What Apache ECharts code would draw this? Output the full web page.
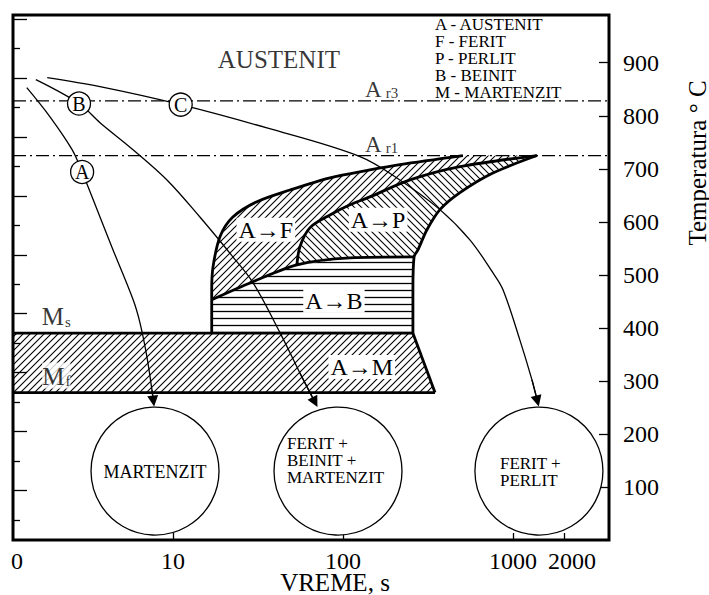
<!DOCTYPE html>
<html>
<head>
<meta charset="utf-8">
<title>CCT dijagram</title>
<script src="https://cdn.jsdelivr.net/npm/echarts@6/dist/echarts.min.js"></script>
<style>
  html, body { margin: 0; padding: 0; background: #fff; }
  #chart { width: 709px; height: 595px; }
</style>
</head>
<body>
<div id="chart"></div>
<script>
// ---- ose ----
var timeMin = 1.145, timeMax = 3674;          // s (log osa)
var tempMax = 990;                            // °C
var xTicks = [10, 100, 1000, 2000];
var xLabelValues = [1.21, 10, 100, 1000, 2000]; // prva oznaka se pise kao "0"
var fMin = 32, fMax = 32 + 1.8 * tempMax;     // lijeva osa bez brojeva, °F
var fMajor = [200, 400, 600, 800, 1000, 1200, 1400, 1600, 1800];
var fMinor = [100, 300, 500, 700, 900, 1100, 1300, 1500, 1700];

// ---- kriticne temperature ----
var ar3 = 828, ar1 = 725, ms = 390, mf = 278;

// ---- krive transformacije [t (s), T (°C)] ----
var ferStart = [[16.9, 390], [16.9, 453], [16.9, 472], [17.2, 515], [18.9, 572], [22.5, 609],
                [31.2, 638], [48.8, 660], [83.9, 683], [144, 698], [216, 708], [508, 725]];
var perStart = [[53.6, 519], [55.8, 553], [64, 589], [83.9, 613], [110, 632], [144, 647],
                [248, 679], [488, 704], [1384, 725]];
var perEnd   = [[1384, 725], [762, 692], [488, 655], [372, 623], [312, 585], [276, 547],
                [262, 534], [258, 472], [258, 390]];
var baiStart = [[16.9, 453], [29.5, 487], [53.6, 519], [110, 532], [262, 534]];
var msEnd = 258, mfEnd = 348;

// ---- krive hladjenja A, B, C ----
var coolA = [[1.38, 853], [1.89, 798], [2.55, 736], [2.92, 694], [3.72, 609], [4.44, 547],
             [5.83, 453], [6.4, 409], [7.03, 345], [7.52, 283], [7.67, 262]];
var coolB = [[1.56, 868], [2.80, 823], [3.72, 787], [5.82, 736], [9.22, 679], [14.4, 609],
             [22.5, 534], [29.6, 485], [42.6, 391], [55.8, 315], [68.4, 260]];
var coolC = [[1.82, 872], [3.72, 855], [11.1, 821], [35.7, 777], [126, 723], [216, 679],
             [372, 623], [558, 566], [762, 504], [874, 472], [1099, 377], [1294, 302], [1393, 262]];
var curveMarks = [['A', 2.92, 694], ['B', 2.80, 823], ['C', 11.1, 821]];

// ---- strukture ----
var structures = [
  ['MARTENZIT', 7.84, 130],
  ['FERIT +\nBEINIT +\nMARTENZIT', 93.5, 130],
  ['FERIT +\nPERLIT', 1422, 130]
];
var regionLabels = ['A→F', 'A→P', 'A→B', 'A→M'];
var regionLabelPos = [[35.2, 585], [161, 604], [88.5, 451], [129, 326]];
var legendLines = ['A - AUSTENIT', 'F - FERIT', 'P - PERLIT', 'B - BEINIT', 'M - MARTENZIT'];
var subLabels = [['A', 'r3', 135, ar3], ['A', 'r1', 135, ar1], ['M', 's', 1.69, ms], ['M', 'f', 1.7, mf]];

var serif = '"Liberation Serif", "DejaVu Serif", serif';

// srafure
function hatch(kind) {
  var s = 7, c = document.createElement('canvas');
  c.width = s; c.height = s;
  var g = c.getContext('2d');
  g.strokeStyle = '#000';
  g.lineWidth = 1.1;
  g.beginPath();
  if (kind === '/') {
    g.moveTo(0, s); g.lineTo(s, 0);
    g.moveTo(-1, 1); g.lineTo(1, -1);
    g.moveTo(s - 1, s + 1); g.lineTo(s + 1, s - 1);
  } else if (kind === '\\') {
    g.moveTo(0, 0); g.lineTo(s, s);
    g.moveTo(-1, s - 1); g.lineTo(1, s + 1);
    g.moveTo(s - 1, -1); g.lineTo(s + 1, 1);
  } else {
    g.lineWidth = 1.3;
    g.moveTo(0, 3.5); g.lineTo(s, 3.5);
  }
  g.stroke();
  return { image: c, repeat: 'repeat', imageWidth: s, imageHeight: s };
}

var regions = [
  { pts: ferStart.slice(1).concat(perStart.slice().reverse(), [baiStart[1], baiStart[0]]), fill: hatch('/') },
  { pts: perStart.concat(perEnd.slice(1, 7), [baiStart[3], baiStart[2]]), fill: hatch('\\') },
  { pts: baiStart.concat(perEnd.slice(7), [ferStart[0]]), fill: hatch('-') },
  { pts: [[timeMin, ms], [msEnd, ms], [mfEnd, mf], [timeMin, mf]], fill: hatch('/') }
];

function renderRegion(params, api) {
  var reg = regions[params.dataIndex];
  var pts = reg.pts.map(function (p) { return api.coord(p); });
  var c = api.coord([api.value(0), api.value(1)]);
  return {
    type: 'group',
    children: [
      { type: 'polygon', shape: { points: pts }, style: { fill: reg.fill } },
      { type: 'text', x: c[0], y: c[1],
        style: { text: regionLabels[params.dataIndex], fill: '#000', fontSize: 24, fontFamily: serif,
                 align: 'center', verticalAlign: 'middle', backgroundColor: '#fff', padding: [0, 2] } }
    ]
  };
}

function thick(data) {
  return { type: 'line', data: data, smooth: 0.3, symbol: 'none', z: 3, silent: true,
           lineStyle: { color: '#000', width: 2.8 } };
}

function cooling(pts) {
  return { type: 'line', data: pts, smooth: 0.35, symbol: 'none', z: 4, silent: true,
           lineStyle: { color: '#000', width: 1.3 } };
}

function dashDot(T) {
  return { type: 'line', data: [[timeMin, T], [timeMax, T]], symbol: 'none', z: 2, silent: true,
           lineStyle: { color: '#000', width: 1.2, type: [13, 4, 2, 4] } };
}

// vrhovi strelica na kraju krivih hladjenja
var arrowData = [coolA, coolB, coolC].map(function (pts) {
  return { coords: [pts[pts.length - 2], pts[pts.length - 1]] };
});

var textData = [{
  value: [42, 906],
  label: { show: true, formatter: 'AUSTENIT', fontSize: 25, fontFamily: serif, color: '#000' }
}].concat(subLabels.map(function (s) {
  var isM = s[0] === 'M';
  return {
    value: [s[2], s[3]],
    label: {
      show: true, position: 'inside', align: 'left', verticalAlign: 'bottom',
      offset: [0, isM ? -4 : 0],
      formatter: '{a|' + s[0] + '}{b|' + s[1] + '}',
      backgroundColor: s[1] === 'f' ? '#fff' : 'transparent',
      rich: {
        a: { fontSize: isM ? 25 : 23, lineHeight: isM ? 26 : 24, fontFamily: serif, color: '#000', verticalAlign: 'bottom' },
        b: { fontSize: 15, lineHeight: 15, fontFamily: serif, color: '#000', verticalAlign: 'bottom', padding: [0, 0, 0, isM ? 1 : 4] }
      }
    }
  };
}));

var chart = echarts.init(document.getElementById('chart'), null, { renderer: 'svg' });

chart.setOption({
  animation: false,
  grid: { left: 13, right: 100, top: 15, bottom: 55, outerBoundsMode: 'none',
          show: true, borderColor: '#000', borderWidth: 3 },
  title: {
    text: legendLines.join('\n'), left: 435, top: 16, padding: 0,
    textStyle: { fontFamily: serif, fontSize: 17, fontWeight: 'normal', lineHeight: 17, color: '#000' }
  },
  xAxis: {
    type: 'log', logBase: 10, min: timeMin, max: timeMax,
    axisLine: { show: false },
    axisTick: { inside: true, length: 7, lineStyle: { color: '#000', width: 1.3 }, customValues: xTicks },
    minorTick: { show: false },
    axisLabel: {
      customValues: xLabelValues, margin: 9, fontFamily: serif, fontSize: 24, color: '#000',
      formatter: function (v) {
        if (v < 2) return '0';
        return v === 2000 ? '{r|2000}' : String(v);
      },
      rich: { r: { fontFamily: serif, fontSize: 24, color: '#000', padding: [0, 0, 0, 16] } }
    },
    splitLine: { show: false },
    minorSplitLine: { show: false },
    name: 'VREME, s', nameLocation: 'middle', nameGap: 30, nameMoveOverlap: false,
    nameTextStyle: { fontFamily: serif, fontSize: 25, color: '#000', padding: [0, 0, 0, 48] }
  },
  yAxis: [
    {
      type: 'value', position: 'right', min: 0, max: tempMax, interval: 100,
      axisLine: { show: false },
      axisTick: { inside: true, length: 10, lineStyle: { color: '#000', width: 1.3 } },
      axisLabel: { margin: 14, fontFamily: serif, fontSize: 24, color: '#000',
                   showMinLabel: false, showMaxLabel: false,
                   formatter: function (v) { return v % 100 === 0 && v > 0 ? String(v) : ''; } },
      splitLine: { show: false }
    },
    {
      type: 'value', position: 'left', min: fMin, max: fMax,
      axisLine: { show: false },
      axisTick: { inside: true, length: 14, lineStyle: { color: '#000', width: 1.3 }, customValues: fMajor },
      axisLabel: { show: false },
      splitLine: { show: false }
    },
    {
      type: 'value', position: 'left', min: fMin, max: fMax,
      axisLine: { show: false },
      axisTick: { inside: true, length: 7, lineStyle: { color: '#000', width: 1.3 }, customValues: fMinor },
      axisLabel: { show: false },
      splitLine: { show: false }
    }
  ],
  graphic: [{
    type: 'text', x: 697, y: 163, rotation: Math.PI / 2, silent: true,
    style: { text: 'Temperatura ° C', fontSize: 25, fontFamily: serif, fill: '#000',
             align: 'center', verticalAlign: 'middle' }
  }],
  series: [
    { type: 'custom', renderItem: renderRegion, z: 1, silent: true,
      data: regionLabelPos.map(function (p, i) { return [p[0], p[1], i]; }) },
    dashDot(ar3),
    dashDot(ar1),
    thick(ferStart),
    thick(perStart),
    thick(perEnd),
    thick(baiStart),
    thick([[timeMin, ms], [msEnd, ms]]),
    thick([[timeMin, mf], [mfEnd, mf]]),
    thick([[msEnd, ms], [mfEnd, mf]]),
    cooling(coolA),
    cooling(coolB),
    cooling(coolC),
    {
      type: 'lines', coordinateSystem: 'cartesian2d', z: 4, silent: true,
      symbol: ['none', 'triangle'], symbolSize: 11,
      lineStyle: { color: '#000', width: 1.3, opacity: 1 },
      itemStyle: { color: '#000' },
      data: arrowData
    },
    {
      type: 'scatter', z: 5, silent: true, symbolSize: 128,
      itemStyle: { color: '#fff', borderColor: '#000', borderWidth: 1.3, opacity: 1 },
      data: structures.map(function (s, i) {
        return {
          value: [s[1], s[2]],
          label: {
            show: true, position: 'inside', formatter: s[0], fontFamily: serif,
            fontSize: i === 0 ? 18 : 17, lineHeight: 17, color: '#000', align: i === 0 ? 'center' : 'left',
            offset: i === 0 ? [0, 1] : (i === 1 ? [-51, -11] : [-39, 1])
          }
        };
      })
    },
    {
      type: 'scatter', z: 6, silent: true, symbolSize: 23,
      itemStyle: { color: '#fff', borderColor: '#000', borderWidth: 1.3, opacity: 1 },
      label: { show: true, position: 'inside', fontFamily: serif, fontSize: 20, color: '#000',
               formatter: function (p) { return curveMarks[p.dataIndex][0]; } },
      data: curveMarks.map(function (m) { return [m[1], m[2]]; })
    },
    {
      type: 'scatter', z: 7, silent: true, symbolSize: 1,
      itemStyle: { color: 'transparent' },
      data: textData
    }
  ]
});
</script>
</body>
</html>
